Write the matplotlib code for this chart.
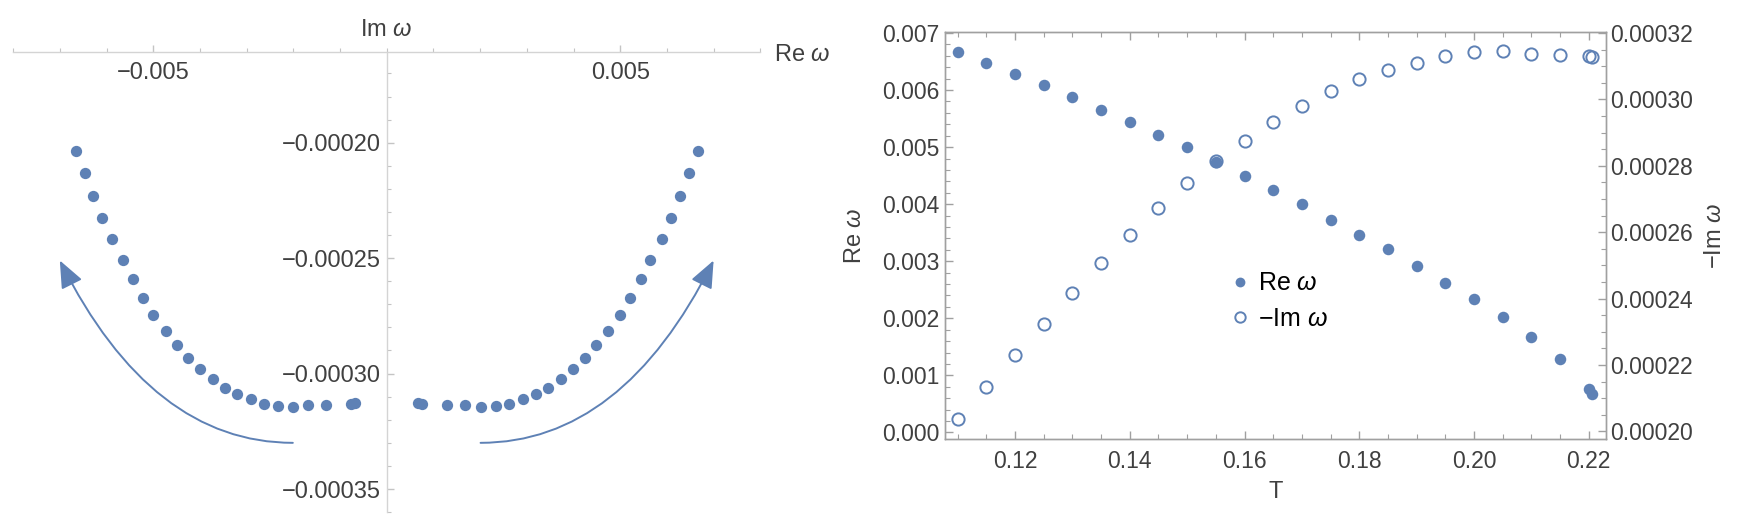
import matplotlib
matplotlib.use('Agg')
import matplotlib.pyplot as plt
from matplotlib.patches import FancyArrowPatch
from matplotlib.path import Path
from matplotlib.ticker import MultipleLocator
import numpy as np

plt.rcParams['font.family'] = ['Liberation Sans', 'DejaVu Sans']
plt.rcParams['mathtext.fontset'] = 'custom'
plt.rcParams['mathtext.it'] = 'Liberation Sans:italic'
plt.rcParams['mathtext.rm'] = 'Liberation Sans'

# ---------------- data ----------------
T = [0.110, 0.115, 0.120, 0.125, 0.130, 0.135, 0.140, 0.145, 0.150, 0.155,
     0.160, 0.165, 0.170, 0.175, 0.180, 0.185, 0.190, 0.195, 0.200, 0.205,
     0.210, 0.215, 0.220, 0.2205]
re_w = [0.006660, 0.006467, 0.006285, 0.006091, 0.005886, 0.005646, 0.005435,
        0.005212, 0.004995, 0.004731, 0.004491, 0.004256, 0.003998, 0.003729,
        0.003459, 0.003207, 0.002914, 0.002626, 0.002333, 0.002017, 0.001677,
        0.001290, 0.000762, 0.000674]
neg_im_w = [0.0002037, 0.0002133, 0.0002230, 0.0002324, 0.0002418, 0.0002506,
            0.0002591, 0.0002672, 0.0002747, 0.0002816, 0.0002875, 0.0002932,
            0.0002980, 0.0003025, 0.0003061, 0.0003090, 0.0003109, 0.0003130,
            0.0003142, 0.0003145, 0.0003137, 0.0003135, 0.0003130, 0.0003127]

# left panel ticks
re_ticks = [-0.005, 0.005]
re_tick_labels = ['\u22120.005', '0.005']
im_ticks = [-0.00020, -0.00025, -0.00030, -0.00035]
im_tick_labels = ['\u22120.00020', '\u22120.00025', '\u22120.00030', '\u22120.00035']

# right panel ticks
T_ticks = [0.12, 0.14, 0.16, 0.18, 0.20, 0.22]
T_tick_labels = ['0.12', '0.14', '0.16', '0.18', '0.20', '0.22']
rew_ticks = [0.000, 0.001, 0.002, 0.003, 0.004, 0.005, 0.006, 0.007]
rew_tick_labels = ['0.000', '0.001', '0.002', '0.003', '0.004', '0.005', '0.006', '0.007']
nim_ticks = [0.00020, 0.00022, 0.00024, 0.00026, 0.00028, 0.00030, 0.00032]
nim_tick_labels = ['0.00020', '0.00022', '0.00024', '0.00026', '0.00028', '0.00030', '0.00032']

# annotation arrow (left branch; right branch is its mirror)
arrow_tail = (-0.00201, -0.000330)
arrow_ctrl = (-0.00504, -0.000330)
arrow_head = (-0.00700, -0.000251)

BLUE = '#5E81B5'
TXT = '#404040'
W, H = 1746, 525

fig = plt.figure(figsize=(W / 100, H / 100), dpi=100)

# ---------------- left panel: complex plane ----------------
axL = fig.add_axes([13.1 / W, (H - 512.1) / H, 747.2 / W, 460.1 / H])
xlimL = (-0.0080, 0.0080)
ylimL = (-0.00036, -0.0001607)
axL.set_xlim(*xlimL)
axL.set_ylim(*ylimL)
re_arr = np.array(re_w)
im_arr = -np.array(neg_im_w)
axL.scatter(-re_arr, im_arr, s=66, color=BLUE, linewidths=0, zorder=3)
axL.scatter(re_arr, im_arr, s=66, color=BLUE, linewidths=0, zorder=3)

for sp in ['top', 'right']:
    axL.spines[sp].set_visible(False)
axL.spines['bottom'].set_position(('data', ylimL[1]))
axL.spines['left'].set_position(('data', 0))
for sp in ['bottom', 'left']:
    axL.spines[sp].set_color('#d4d4d4')
    axL.spines[sp].set_linewidth(1.0)
axL.set_xticks(re_ticks, re_tick_labels)
axL.set_yticks(im_ticks, im_tick_labels)
axL.xaxis.set_minor_locator(MultipleLocator(0.001))
axL.yaxis.set_minor_locator(MultipleLocator(0.00001))
axL.tick_params(which='both', direction='in', color='#c4c4c4', labelcolor=TXT,
                labelsize=17)
axL.tick_params(which='major', length=5, width=1)
axL.tick_params(which='minor', length=3, width=0.8)
axL.tick_params(axis='x', pad=7)
axL.tick_params(axis='y', pad=4)
axL.patch.set_alpha(0)

for sign in (1, -1):
    verts = [(sign * arrow_tail[0], arrow_tail[1]),
             (sign * arrow_ctrl[0], arrow_ctrl[1]),
             (sign * arrow_head[0], arrow_head[1])]
    path = Path(verts, [Path.MOVETO, Path.CURVE3, Path.CURVE3])
    arr = FancyArrowPatch(path=path, arrowstyle='-|>,head_length=1.2,head_width=0.5',
                          mutation_scale=14, color=BLUE, lw=1.4,
                          transform=axL.transData)
    axL.add_patch(arr)

fig.text(386.7 / W, 1 - 30 / H, 'Im $\\omega$', ha='center', va='center',
         fontsize=17, color=TXT)
fig.text(774 / W, 1 - 55 / H, 'Re $\\omega$', ha='left', va='center',
         fontsize=17, color=TXT)

# ---------------- right panel: vs T ----------------
axR = fig.add_axes([945 / W, (H - 438.8) / H, 661 / W, 406.4 / H])
h1, = axR.plot(T, re_w, 'o', color=BLUE, ms=8.3, mec='none', label='Re $\\omega$')
axR.set_xlim(0.1078, 0.2230)
axR.set_ylim(-0.000112, 0.00701)
ax2 = axR.twinx()
h2, = ax2.plot(T, neg_im_w, 'o', mfc='none', mec=BLUE, mew=1.4, ms=8.8,
               label='\u2212Im $\\omega$')
ax2.set_ylim(0.0001978, 0.0003202)

axR.set_xticks(T_ticks, T_tick_labels)
axR.set_yticks(rew_ticks, rew_tick_labels)
ax2.set_yticks(nim_ticks, nim_tick_labels)
axR.xaxis.set_minor_locator(MultipleLocator(0.005))
axR.yaxis.set_minor_locator(MultipleLocator(0.0002))
ax2.yaxis.set_minor_locator(MultipleLocator(0.000005))

FRAME = '#a0a0a0'
for a in (axR, ax2):
    for sp in a.spines.values():
        sp.set_color(FRAME)
        sp.set_linewidth(1.0)
axR.tick_params(which='both', direction='in', color=FRAME, labelcolor=TXT,
                labelsize=16.5, top=True)
axR.tick_params(which='major', length=6, width=1)
axR.tick_params(which='minor', length=3.5, width=0.8)
axR.tick_params(axis='x', pad=8)
axR.tick_params(axis='y', pad=4)
ax2.tick_params(which='both', direction='in', color=FRAME, labelcolor=TXT,
                labelsize=16.5)
ax2.tick_params(which='major', length=6, width=1)
ax2.tick_params(which='minor', length=3.5, width=0.8)
ax2.tick_params(axis='y', pad=3)

axR.set_xlabel('T', fontsize=17, color=TXT)
axR.xaxis.set_label_coords(0.5, -0.105)
axR.set_ylabel('Re $\\omega$', fontsize=17, color=TXT)
axR.yaxis.set_label_coords(-0.12, 0.5)
ax2.set_ylabel('\u2212Im $\\omega$', fontsize=17, color=TXT)
ax2.yaxis.set_label_coords(1.148, 0.5)

fig.legend(handles=[h1, h2], loc='center left',
           bbox_to_anchor=(1229.6 / W, 1 - 301 / H), bbox_transform=fig.transFigure,
           frameon=False, fontsize=18, handlelength=0.8, handletextpad=0.35,
           borderpad=0, borderaxespad=0, labelspacing=0.45, markerscale=0.85)

fig.savefig('out.png', dpi=100)
